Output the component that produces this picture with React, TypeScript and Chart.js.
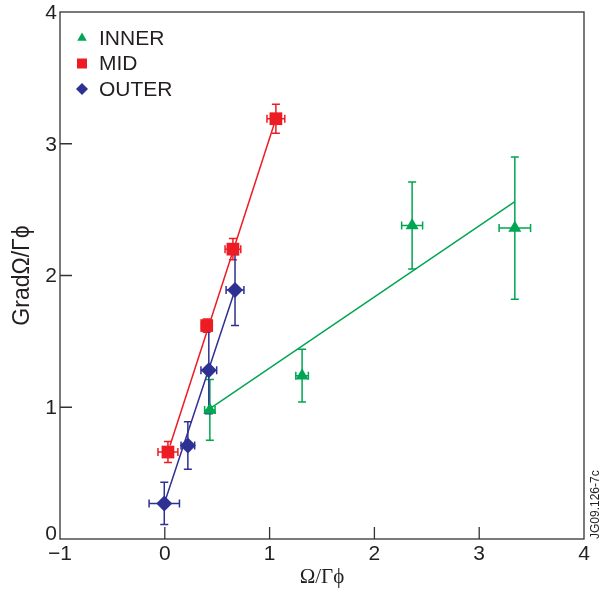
import React, { useEffect, useRef } from 'react';
import { Chart, registerables } from 'chart.js';

Chart.register(...registerables);

// ---- data ----
const seriesNames = ['INNER', 'MID', 'OUTER'];

const innerX = [0.43, 1.31, 2.36, 3.34];
const innerY = [0.98, 1.24, 2.38, 2.36];
const innerXErr = [0.05, 0.06, 0.1, 0.15];
const innerYErr = [0.23, 0.2, 0.33, 0.54];

const midX = [0.03, 0.4, 0.65, 1.06];
const midY = [0.66, 1.62, 2.2, 3.19];
const midXErr = [0.095, 0.05, 0.075, 0.085];
const midYErr = [0.08, 0.05, 0.08, 0.11];

const outerX = [-0.005, 0.22, 0.42, 0.67];
const outerY = [0.27, 0.71, 1.28, 1.89];
const outerXErr = [0.145, 0.065, 0.075, 0.085];
const outerYErr = [0.16, 0.18, 0.33, 0.27];

const innerFitX = [0.43, 3.34];
const innerFitY = [0.99, 2.56];
const midFitX = [0.05, 1.06];
const midFitY = [0.71, 3.19];
const outerFitX = [-0.005, 0.67];
const outerFitY = [0.27, 1.89];

const xTicks = [-1, 0, 1, 2, 3, 4];
const yTicks = [0, 1, 2, 3, 4];

const xTitle = 'Ω/Γϕ';
const yTitle = 'GradΩ/Γϕ';
const stamp = 'JG09.126-7c';

const GREEN = '#00A651';
const RED = '#ED1C24';
const BLUE = '#2E3192';
const TEXT = '#231F20';
const SANS = '"Liberation Sans", Arial, Helvetica, sans-serif';
const SERIF = '"Liberation Serif", "Times New Roman", serif';

const pts = (xs: number[], ys: number[]) => xs.map((x, i) => ({ x, y: ys[i] }));

const errSets = [
  { xs: innerX, ys: innerY, xe: innerXErr, ye: innerYErr, color: GREEN },
  { xs: midX, ys: midY, xe: midXErr, ye: midYErr, color: RED },
  { xs: outerX, ys: outerY, xe: outerXErr, ye: outerYErr, color: BLUE },
];

function drawShape(ctx: CanvasRenderingContext2D, style: string, x: number, y: number, r: number) {
  ctx.beginPath();
  if (style === 'triangle') {
    for (let k = 0; k < 3; k++) {
      const a = -Math.PI / 2 + (k * 2 * Math.PI) / 3;
      const px = x + Math.cos(a) * r;
      const py = y + Math.sin(a) * r;
      if (k === 0) ctx.moveTo(px, py);
      else ctx.lineTo(px, py);
    }
  } else if (style === 'rect') {
    ctx.rect(x - r, y - r, 2 * r, 2 * r);
  } else {
    ctx.moveTo(x - r, y);
    ctx.lineTo(x, y - r);
    ctx.lineTo(x + r, y);
    ctx.lineTo(x, y + r);
  }
  ctx.closePath();
  ctx.fill();
}

const decorPlugin = {
  id: 'decor',
  beforeDatasetsDraw(chart: any) {
    const ctx = chart.ctx as CanvasRenderingContext2D;
    const xs = chart.scales.x;
    const ys = chart.scales.y;
    const cap = 4;
    ctx.save();
    ctx.lineWidth = 1.5;
    errSets.forEach((s) => {
      ctx.strokeStyle = s.color;
      s.xs.forEach((xv, i) => {
        const yv = s.ys[i];
        const px = xs.getPixelForValue(xv);
        const py = ys.getPixelForValue(yv);
        const y1 = ys.getPixelForValue(yv + s.ye[i]);
        const y2 = ys.getPixelForValue(yv - s.ye[i]);
        const x1 = xs.getPixelForValue(xv - s.xe[i]);
        const x2 = xs.getPixelForValue(xv + s.xe[i]);
        ctx.beginPath();
        ctx.moveTo(px, y1);
        ctx.lineTo(px, y2);
        ctx.moveTo(px - cap, y1);
        ctx.lineTo(px + cap, y1);
        ctx.moveTo(px - cap, y2);
        ctx.lineTo(px + cap, y2);
        ctx.moveTo(x1, py);
        ctx.lineTo(x2, py);
        ctx.moveTo(x1, py - cap);
        ctx.lineTo(x1, py + cap);
        ctx.moveTo(x2, py - cap);
        ctx.lineTo(x2, py + cap);
        ctx.stroke();
      });
    });
    ctx.restore();
  },
  afterDraw(chart: any) {
    const ctx = chart.ctx as CanvasRenderingContext2D;
    const { left, right, top, bottom } = chart.chartArea;
    const xs = chart.scales.x;
    const ys = chart.scales.y;
    ctx.save();
    // frame
    ctx.strokeStyle = '#333';
    ctx.lineWidth = 1.3;
    ctx.strokeRect(left, top, right - left, bottom - top);
    // inward ticks
    ctx.beginPath();
    xTicks.slice(1, -1).forEach((v) => {
      const px = xs.getPixelForValue(v);
      ctx.moveTo(px, bottom);
      ctx.lineTo(px, bottom - 12);
    });
    yTicks.slice(1, -1).forEach((v) => {
      const py = ys.getPixelForValue(v);
      ctx.moveTo(left, py);
      ctx.lineTo(left + 12, py);
    });
    ctx.stroke();

    // y tick labels
    ctx.font = `21px ${SANS}`;
    ctx.fillStyle = TEXT;
    ctx.textAlign = 'right';
    ctx.textBaseline = 'middle';
    yTicks.forEach((v, i) => {
      const py = ys.getPixelForValue(v) + (i === 0 ? -5 : 1);
      ctx.fillText(String(v), left - 3, py);
    });

    // legend
    const styles = ['triangle', 'rect', 'rectRot'];
    const colors = [GREEN, RED, BLUE];
    const sizes = [5.5, 5, 6];
    ctx.font = `21px ${SANS}`;
    ctx.textBaseline = 'middle';
    ctx.textAlign = 'left';
    seriesNames.forEach((name, i) => {
      const ly = top + 26 + i * 25.5;
      ctx.fillStyle = colors[i];
      drawShape(ctx, styles[i], left + 22, ly, sizes[i]);
      ctx.fillStyle = TEXT;
      ctx.fillText(name, left + 39, ly + 1);
    });

    // stamp
    ctx.save();
    ctx.translate(right + 12, bottom);
    ctx.rotate(-Math.PI / 2);
    ctx.font = `12px ${SANS}`;
    ctx.fillStyle = TEXT;
    ctx.textAlign = 'left';
    ctx.textBaseline = 'middle';
    ctx.fillText(stamp, 0, 0);
    ctx.restore();

    ctx.restore();
  },
};

export default function App() {
  const ref = useRef<HTMLCanvasElement>(null);
  useEffect(() => {
    document.body.style.margin = '0';
    const canvas = ref.current;
    if (!canvas) return;
    const chart = new Chart(canvas, {
      type: 'scatter',
      data: {
        datasets: [
          {
            label: seriesNames[0],
            data: pts(innerX, innerY),
            pointStyle: 'triangle',
            pointRadius: 7.5,
            backgroundColor: GREEN,
            borderColor: GREEN,
            borderWidth: 0,
            showLine: false,
          },
          {
            label: seriesNames[1],
            data: pts(midX, midY),
            pointStyle: 'rect',
            pointRadius: 9,
            backgroundColor: RED,
            borderColor: RED,
            borderWidth: 0,
            showLine: false,
          },
          {
            label: seriesNames[2],
            data: pts(outerX, outerY),
            pointStyle: 'rectRot',
            pointRadius: 8,
            backgroundColor: BLUE,
            borderColor: BLUE,
            borderWidth: 0,
            showLine: false,
          },
          {
            label: 'INNER fit',
            data: pts(innerFitX, innerFitY),
            showLine: true,
            pointRadius: 0,
            borderColor: GREEN,
            borderWidth: 1.5,
          },
          {
            label: 'MID fit',
            data: pts(midFitX, midFitY),
            showLine: true,
            pointRadius: 0,
            borderColor: RED,
            borderWidth: 1.5,
          },
          {
            label: 'OUTER fit',
            data: pts(outerFitX, outerFitY),
            showLine: true,
            pointRadius: 0,
            borderColor: BLUE,
            borderWidth: 1.5,
          },
        ],
      },
      options: {
        animation: false,
        responsive: false,
        layout: { padding: { top: 12, right: 18, left: 0, bottom: 0 } },
        plugins: { legend: { display: false }, tooltip: { enabled: false } },
        scales: {
          x: {
            type: 'linear',
            min: -1,
            max: 4,
            afterFit: (s: any) => {
              s.height = 55;
            },
            afterBuildTicks: (s: any) => {
              s.ticks = xTicks.map((v) => ({ value: v }));
            },
            grid: { display: false },
            border: { display: false },
            ticks: {
              color: TEXT,
              font: { size: 21, family: SANS },
              padding: -5,
              maxRotation: 0,
              autoSkip: false,
              callback: (v: any) => (Number(v) < 0 ? '\u2212' + Math.abs(Number(v)) : String(v)),
            },
            title: {
              display: true,
              text: xTitle,
              color: TEXT,
              font: { size: 21, family: SERIF },
              padding: { top: 0, bottom: 4 },
            },
          },
          y: {
            type: 'linear',
            min: 0,
            max: 4,
            afterFit: (s: any) => {
              s.width = 60;
            },
            afterBuildTicks: (s: any) => {
              s.ticks = yTicks.map((v) => ({ value: v }));
            },
            grid: { display: false },
            border: { display: false },
            ticks: { display: false },
            title: {
              display: true,
              text: yTitle,
              color: TEXT,
              font: { size: 23, family: SANS },
              padding: { top: 9, bottom: 0 },
            },
          },
        },
      },
      plugins: [decorPlugin],
    } as any);
    return () => chart.destroy();
  }, []);
  return (
    <div style={{ width: 602, height: 594 }}>
      <canvas ref={ref} width={602} height={594} style={{ display: 'block' }} />
    </div>
  );
}
